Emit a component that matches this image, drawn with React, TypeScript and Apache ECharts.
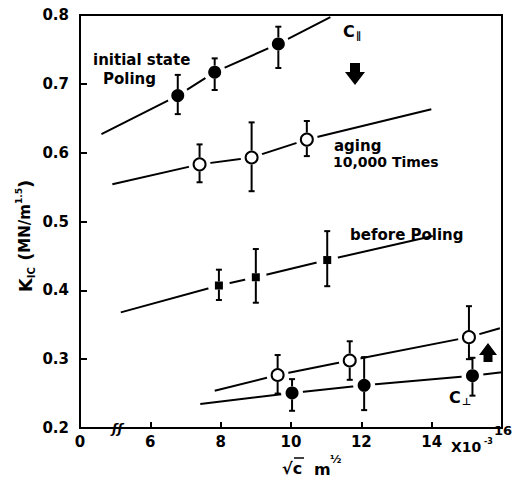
import React, { useEffect, useRef } from 'react';
import * as echarts from 'echarts';

// x axis: sqrt(c) (x10^-3 m^1/2); the axis is broken, the left end (4) is labelled "0"
const xMin = 4;
const xMax = 16;
const yMin = 0.2;
const yMax = 0.8;

// C// initial state poling (filled circles)
const parX = [6.78, 7.83, 9.64];
const parY = [0.683, 0.717, 0.758];
const parLo = [0.656, 0.691, 0.723];
const parHi = [0.713, 0.737, 0.783];
const parLineStart = [4.61, 0.627];
const parLineEnd = [11.12, 0.797];

// aging 10,000 times (open circles)
const agX = [7.40, 8.88, 10.45];
const agY = [0.583, 0.593, 0.619];
const agLo = [0.557, 0.544, 0.595];
const agHi = [0.612, 0.644, 0.646];
const agLineStart = [4.92, 0.554];
const agLineEnd = [13.99, 0.663];

// before poling (filled squares)
const bpX = [7.95, 9.0, 11.03];
const bpY = [0.407, 0.419, 0.444];
const bpLo = [0.386, 0.382, 0.406];
const bpHi = [0.430, 0.460, 0.486];
const bpLineStart = [5.16, 0.368];
const bpLineEnd = [14.03, 0.479];

// C perpendicular, aged (open circles)
const paX = [9.62, 11.67, 15.06];
const paY = [0.277, 0.298, 0.332];
const paLo = [0.250, 0.270, 0.300];
const paHi = [0.306, 0.326, 0.377];
const paLineStart = [7.83, 0.254];
const paLineEnd = [15.94, 0.345];

// C perpendicular, initial (filled circles)
const ppX = [10.03, 12.08, 15.16];
const ppY = [0.251, 0.262, 0.276];
const ppLo = [0.225, 0.226, 0.247];
const ppHi = [0.271, 0.303, 0.302];
const ppLineStart = [7.42, 0.235];
const ppLineEnd = [16.0, 0.281];

const FONT = '"DejaVu Sans", sans-serif';

function pts(xs: number[], ys: number[]) {
  return xs.map((x, i) => [x, ys[i]]);
}
function linePts(start: number[], xs: number[], ys: number[], end: number[]) {
  return [start, ...pts(xs, ys), end];
}

function buildSeries(
  xs: number[], ys: number[], lo: number[], hi: number[],
  start: number[], end: number[], symbol: string, size: number, open: boolean
): any[] {
  const r = size / 2 + (open ? 1 : 0);
  return [
    {
      type: 'line', data: linePts(start, xs, ys, end), showSymbol: false, symbol: 'none',
      lineStyle: { color: '#000', width: 2, opacity: 1 }, z: 1, silent: true,
    },
    {
      type: 'scatter', data: pts(xs, ys), symbol: 'circle', symbolSize: 22,
      itemStyle: { color: '#fff', opacity: 1 }, z: 2, silent: true,
    },
    {
      type: 'custom', z: 3, silent: true,
      data: xs.map((x, i) => [x, ys[i], lo[i], hi[i]]),
      encode: { x: 0, y: [1, 2, 3] },
      renderItem: (params: any, api: any) => {
        const x = api.value(0), y = api.value(1), l = api.value(2), h = api.value(3);
        const c = api.coord([x, y]);
        const t = api.coord([x, h]);
        const b = api.coord([x, l]);
        const st = { stroke: '#000', lineWidth: 2 };
        const cap = 3;
        const children: any[] = [];
        if (t[1] < c[1] - r) {
          children.push({ type: 'line', shape: { x1: t[0], y1: t[1], x2: c[0], y2: c[1] - r }, style: st });
          children.push({ type: 'line', shape: { x1: t[0] - cap, y1: t[1], x2: t[0] + cap, y2: t[1] }, style: st });
        }
        if (b[1] > c[1] + r) {
          children.push({ type: 'line', shape: { x1: c[0], y1: c[1] + r, x2: b[0], y2: b[1] }, style: st });
          children.push({ type: 'line', shape: { x1: b[0] - cap, y1: b[1], x2: b[0] + cap, y2: b[1] }, style: st });
        }
        return { type: 'group', children };
      },
    },
    {
      type: 'scatter', data: pts(xs, ys), symbol, symbolSize: size, z: 4, silent: true,
      itemStyle: open
        ? { color: '#fff', borderColor: '#000', borderWidth: 2, opacity: 1 }
        : { color: '#000', opacity: 1 },
    },
  ];
}

export default function App() {
  const ref = useRef<HTMLDivElement>(null);
  useEffect(() => {
    if (!ref.current) return;
    const chart = echarts.init(ref.current, undefined, { renderer: 'svg' });
    const txt = (text: string, x: number, y: number, size = 15, align = 'left', extra: any = {}) => ({
      type: 'text', x, y, silent: true,
      style: { text, fill: '#000', font: `bold ${size}px ${FONT}`, align, verticalAlign: 'middle', ...extra },
    });
    const option: any = {
      animation: false,
      backgroundColor: '#fff',
      grid: { left: 80, right: 10, top: 15, bottom: 51, show: true, borderColor: '#000', borderWidth: 2, containLabel: false },
      xAxis: {
        type: 'value', min: xMin, max: xMax, interval: 2,
        axisLine: { lineStyle: { color: '#000', width: 2 } },
        axisTick: { inside: true, length: 6, lineStyle: { color: '#000', width: 2 } },
        splitLine: { show: false },
        axisLabel: {
          color: '#000', fontSize: 15, fontWeight: 'bold', fontFamily: FONT, margin: 6,
          formatter: (v: number) => (v === xMin ? '0' : v === xMax ? '' : String(v)),
        },
      },
      yAxis: {
        type: 'value', min: yMin, max: yMax, interval: 0.1,
        axisLine: { lineStyle: { color: '#000', width: 2 } },
        axisTick: { inside: true, length: 7, lineStyle: { color: '#000', width: 2 } },
        splitLine: { show: false },
        axisLabel: {
          color: '#000', fontSize: 15, fontWeight: 'bold', fontFamily: FONT, margin: 11,
          formatter: (v: number) => v.toFixed(1),
        },
      },
      series: [
        ...buildSeries(parX, parY, parLo, parHi, parLineStart, parLineEnd, 'circle', 13, false),
        ...buildSeries(agX, agY, agLo, agHi, agLineStart, agLineEnd, 'circle', 12, true),
        ...buildSeries(bpX, bpY, bpLo, bpHi, bpLineStart, bpLineEnd, 'rect', 8, false),
        ...buildSeries(paX, paY, paLo, paHi, paLineStart, paLineEnd, 'circle', 12, true),
        ...buildSeries(ppX, ppY, ppLo, ppHi, ppLineStart, ppLineEnd, 'circle', 13, false),
      ],
      graphic: [
        txt('initial state', 93, 60),
        txt('Poling', 103, 79),
        txt('aging', 334, 146),
        txt('10,000 Times', 333, 162, 14),
        txt('before Poling', 350, 235),
        txt('C', 343, 31, 16),
        txt('∥', 356, 35, 10),
        txt('C', 449, 397, 16),
        txt('⊥', 462, 401, 10),
        {
          type: 'polygon', silent: true,
          shape: { points: [[350, 63], [360, 63], [360, 72], [365, 72], [355, 85], [345, 72], [350, 72]] },
          style: { fill: '#000' },
        },
        {
          type: 'polygon', silent: true,
          shape: { points: [[488, 343], [497, 355], [492.5, 355], [492.5, 362], [483.5, 362], [483.5, 355], [479, 355]] },
          style: { fill: '#000' },
        },
        // axis break mark
        txt('ʃʃ', 112, 428, 13, 'left', { font: `italic bold 13px ${FONT}` }),
        // x axis title
        txt('√c', 282, 468, 16),
        { type: 'line', silent: true, shape: { x1: 294, y1: 458, x2: 304, y2: 458 }, style: { stroke: '#000', lineWidth: 1.5 } },
        txt('m', 314, 469, 16),
        txt('½', 330, 459, 11),
        txt('16', 512, 430, 13, 'right'),
        txt('X10', 451, 447, 14),
        txt('-3', 484, 441, 8),
        // y axis title
        {
          type: 'text', x: 25, y: 236, rotation: Math.PI / 2, silent: true,
          style: {
            text: '{k|K}{s|IC}{p| (}{t|MN/m}{u|1.5}{p|)}', align: 'center', verticalAlign: 'middle',
            rich: {
              k: { font: `bold 18px ${FONT}`, fill: '#000', lineHeight: 22, verticalAlign: 'middle' },
              s: { font: `bold 10px ${FONT}`, fill: '#000', lineHeight: 22, verticalAlign: 'bottom' },
              p: { font: `bold 18px ${FONT}`, fill: '#000', lineHeight: 22, verticalAlign: 'middle' },
              t: { font: `bold 15px ${FONT}`, fill: '#000', lineHeight: 22, verticalAlign: 'middle' },
              u: { font: `bold 9px ${FONT}`, fill: '#000', lineHeight: 22, verticalAlign: 'top' },
            },
          },
        },
      ],
    };
    chart.setOption(option);
    return () => chart.dispose();
  }, []);
  return <div ref={ref} style={{ position: 'fixed', left: 0, top: 0, width: 512, height: 479 }} />;
}
